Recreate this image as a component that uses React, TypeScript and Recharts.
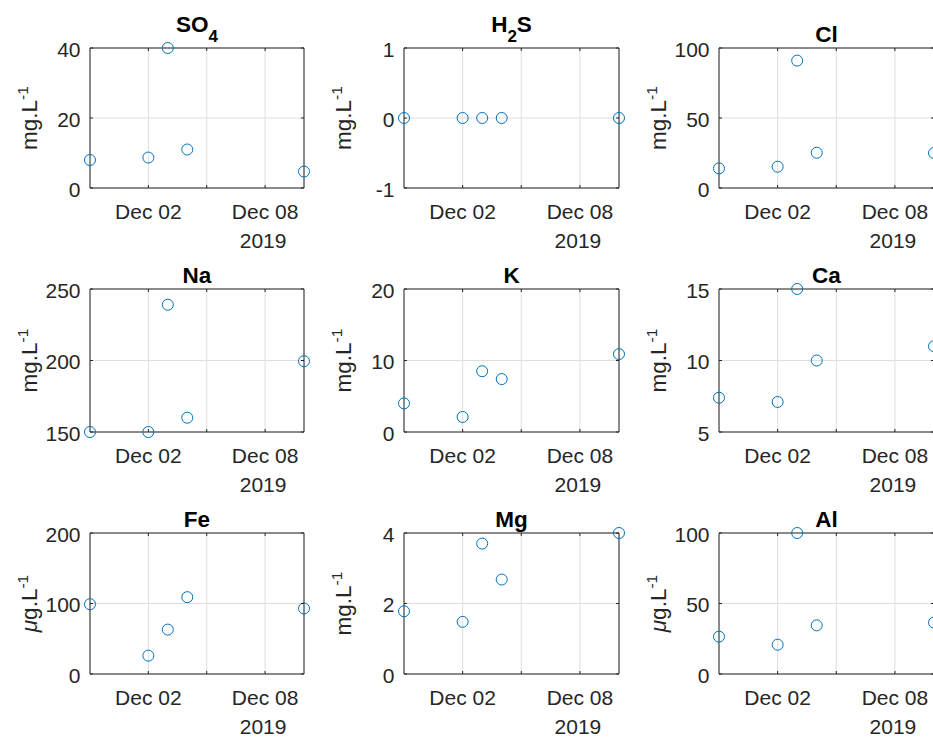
import React from 'react';
import { ScatterChart, Scatter, XAxis, YAxis, CartesianGrid, ReferenceArea } from 'recharts';

// ---- data ----
const sampleDates = ['2019-11-29', '2019-12-02', '2019-12-03', '2019-12-04', '2019-12-10'];
const xDomainDates = ['2019-11-29', '2019-12-10'];
const xTickDates = ['2019-12-02', '2019-12-05', '2019-12-08'];
const xTickLabels = ['Dec 02', '', 'Dec 08'];
const yearLabel = '2019';

const so4Values = [8, 8.7, 40, 11, 4.7];
const h2sValues = [0, 0, 0, 0, 0];
const clValues = [14, 15.2, 91, 25.2, 25];
const naValues = [150, 150, 239, 160, 199.5];
const kValues = [4, 2.1, 8.5, 7.4, 10.9];
const caValues = [7.4, 7.1, 15, 10, 11];
const feValues = [99, 26, 63, 109, 93];
const mgValues = [1.78, 1.48, 3.7, 2.68, 4];
const alValues = [26.5, 20.8, 100, 34.5, 36.5];

const so4Ticks = [0, 20, 40];
const h2sTicks = [-1, 0, 1];
const clTicks = [0, 50, 100];
const naTicks = [150, 200, 250];
const kTicks = [0, 10, 20];
const caTicks = [5, 10, 15];
const feTicks = [0, 100, 200];
const mgTicks = [0, 2, 4];
const alTicks = [0, 50, 100];

const titles: [string, string, string][] = [
  ['SO', '4', ''], ['H', '2', 'S'], ['Cl', '', ''],
  ['Na', '', ''], ['K', '', ''], ['Ca', '', ''],
  ['Fe', '', ''], ['Mg', '', ''], ['Al', '', ''],
];
const unitPrefixes = ['m', 'm', 'm', 'm', 'm', 'm', 'μ', 'm', 'μ'];

// ---- layout / style ----
const FONT = '"Liberation Sans", Arial, Helvetica, sans-serif';
const AX = '#262626';
const GRID = '#dedede';
const MARK = '#0072BD';
const colLefts = [90, 404, 719];
const colWidths = [214, 215, 215];
const rowTops = [48, 289, 533];
const rowHeights = [140, 143, 141];
const LEFT = 90;
const RIGHT = 20;
const BOTTOM = 74;

const ts = (d: string) => {
  const [y, m, dd] = d.split('-').map(Number);
  return Date.UTC(y, m - 1, dd);
};
const xDomain = xDomainDates.map(ts);
const xTicks = xTickDates.map(ts);

const panels = [
  { values: so4Values, ticks: so4Ticks },
  { values: h2sValues, ticks: h2sTicks },
  { values: clValues, ticks: clTicks },
  { values: naValues, ticks: naTicks },
  { values: kValues, ticks: kTicks },
  { values: caValues, ticks: caTicks },
  { values: feValues, ticks: feTicks },
  { values: mgValues, ticks: mgTicks },
  { values: alValues, ticks: alTicks },
];

const XTick = (props: any) => {
  const { x, y, payload, plotH } = props;
  const i = xTicks.indexOf(payload.value);
  const label = xTickLabels[i] || '';
  return (
    <g>
      <line x1={x} x2={x} y1={y} y2={y - 3} stroke={AX} />
      <line x1={x} x2={x} y1={y - plotH} y2={y - plotH + 3} stroke={AX} />
      {label ? (
        <text x={x} y={y + 30.5} textAnchor="middle" fontFamily={FONT} fontSize={21} fill={AX}>
          {label}
        </text>
      ) : null}
      {i === xTicks.length - 1 ? (
        <text x={x - 2} y={y + 60} textAnchor="middle" fontFamily={FONT} fontSize={21} fill={AX}>
          {yearLabel}
        </text>
      ) : null}
    </g>
  );
};

const YTick = (props: any) => {
  const { x, y, payload, plotW } = props;
  return (
    <g>
      <line x1={x} x2={x + 3} y1={y} y2={y} stroke={AX} />
      <line x1={x + plotW} x2={x + plotW - 3} y1={y} y2={y} stroke={AX} />
      <text x={x - 9.5} y={y + 8.5} textAnchor="end" fontFamily={FONT} fontSize={21} fill={AX}>
        {payload.value}
      </text>
    </g>
  );
};

const YLabel = (props: any) => {
  const { viewBox, prefix } = props;
  const vb = viewBox || { x: 0, y: 0, width: LEFT, height: 140 };
  const cx = vb.x + 37;
  const cy = vb.y + vb.height / 2;
  return (
    <text
      transform={`translate(${cx},${cy}) rotate(-90)`}
      x={0}
      y={0}
      textAnchor="middle"
      fontFamily={FONT}
      fontSize={22.5}
      fill={AX}
    >
      <tspan fontStyle={prefix === 'μ' ? 'italic' : 'normal'}>{prefix}</tspan>
      <tspan>g.L</tspan>
      <tspan dy={-9} fontSize={15.5}>-1</tspan>
    </text>
  );
};

const Panel = ({ idx }: { idx: number }) => {
  const r = Math.floor(idx / 3);
  const c = idx % 3;
  const p = panels[idx];
  const plotW = colWidths[c];
  const plotH = rowHeights[r];
  const top = rowTops[r];
  const width = LEFT + plotW + RIGHT;
  const height = top + plotH + BOTTOM;
  const data = sampleDates.map((d, i) => ({ t: ts(d), v: p.values[i] }));
  const yDomain = [p.ticks[0], p.ticks[p.ticks.length - 1]];
  return (
    <div style={{ position: 'absolute', left: colLefts[c] - LEFT, top: 0, width, height }}>
      <ScatterChart width={width} height={height} margin={{ top, right: RIGHT, bottom: 0, left: 0 }}>
        <CartesianGrid stroke={GRID} strokeWidth={1} />
        <XAxis
          type="number"
          dataKey="t"
          domain={xDomain}
          ticks={xTicks}
          interval={0}
          height={BOTTOM}
          axisLine={false}
          tickLine={false}
          tickSize={0}
          tickMargin={0}
          tick={(tp: any) => <XTick {...tp} plotH={plotH} />}
        />
        <YAxis
          type="number"
          dataKey="v"
          domain={yDomain}
          ticks={p.ticks}
          interval={0}
          width={LEFT}
          axisLine={false}
          tickLine={false}
          tickSize={0}
          tickMargin={0}
          tick={(tp: any) => <YTick {...tp} plotW={plotW} />}
          label={(lp: any) => <YLabel {...lp} prefix={unitPrefixes[idx]} />}
        />
        <ReferenceArea
          x1={xDomain[0]}
          x2={xDomain[1]}
          y1={yDomain[0]}
          y2={yDomain[1]}
          fill="none"
          fillOpacity={0}
          stroke={AX}
          strokeWidth={1}
          strokeOpacity={1}
        />
        <Scatter
          data={data}
          isAnimationActive={false}
          shape={(sp: any) => (
            <circle cx={sp.cx} cy={sp.cy} r={5.5} fill="none" stroke={MARK} strokeWidth={1} />
          )}
        />
      </ScatterChart>
    </div>
  );
};

export default function App() {
  return (
    <div
      style={{
        position: 'absolute',
        left: 0,
        top: 0,
        width: 933,
        height: 738,
        overflow: 'hidden',
        background: '#ffffff',
      }}
    >
      {panels.map((_, i) => (
        <Panel key={i} idx={i} />
      ))}
      <svg width={933} height={738} style={{ position: 'absolute', left: 0, top: 0, pointerEvents: 'none' }}>
        {titles.map((t, i) => {
          const r = Math.floor(i / 3);
          const c = i % 3;
          const cx = colLefts[c] + colWidths[c] / 2;
          const hasSub = t[1] !== '';
          const by = rowTops[r] - (hasSub ? 16.5 : 6);
          return (
            <text key={i} x={cx} y={by} textAnchor="middle" fontFamily={FONT} fontSize={22.5} fontWeight="bold" fill="#000">
              <tspan>{t[0]}</tspan>
              {hasSub ? <tspan dy={10.5} fontSize={17}>{t[1]}</tspan> : null}
              {t[2] ? <tspan dy={-10.5}>{t[2]}</tspan> : null}
            </text>
          );
        })}
      </svg>
    </div>
  );
}
